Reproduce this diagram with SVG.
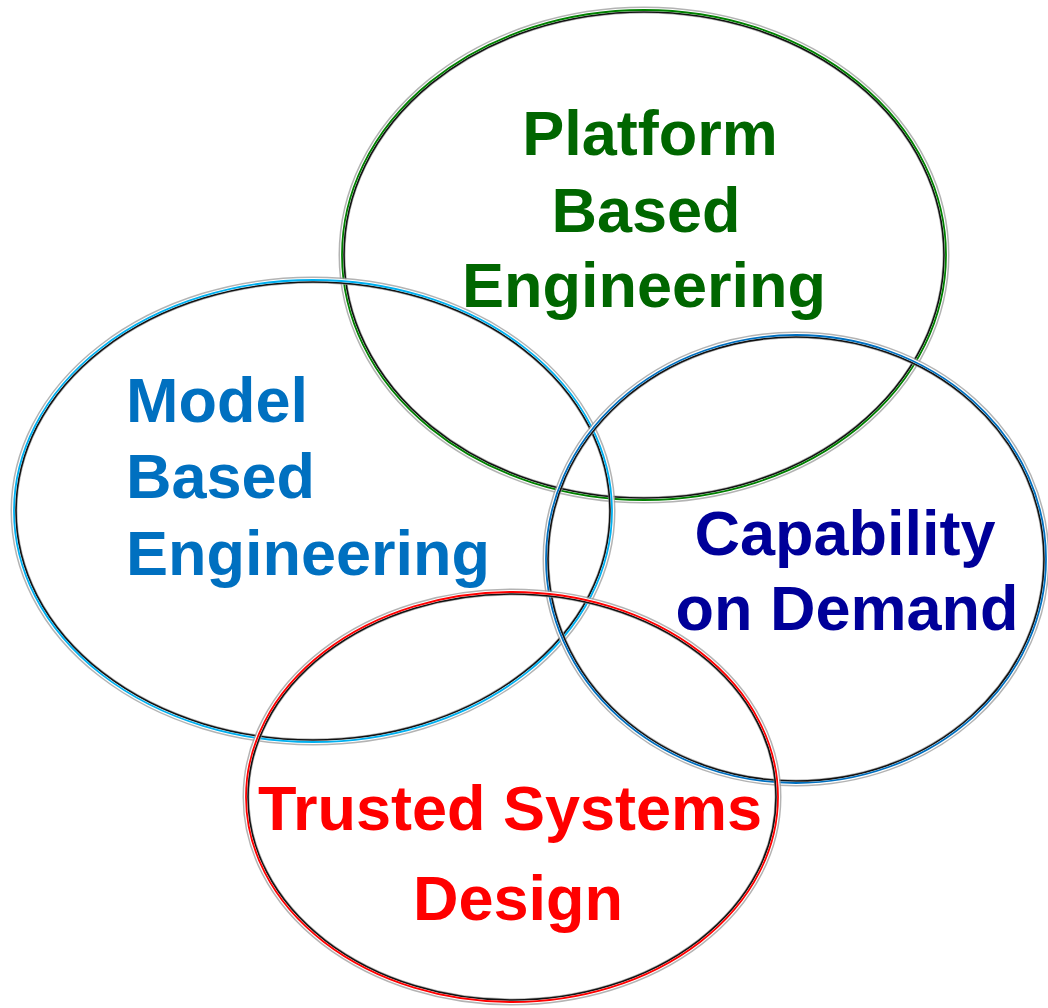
<svg xmlns="http://www.w3.org/2000/svg" width="1048" height="1008" viewBox="0 0 1048 1008">
<style>
.halo{fill:none;stroke:#9a9a9a;stroke-width:7;opacity:0.75}
.gap{fill:none;stroke:#ffffff;stroke-width:4}
.ink{fill:none;stroke:#111111;stroke-width:1.6}
.col{fill:none;stroke-width:1.8}
.t{font-family:"Liberation Sans",Arial,sans-serif;font-weight:bold;font-size:63px}
</style>
<rect width="1048" height="1008" fill="#ffffff"/>
<g id="platform">
<ellipse class="halo" cx="644" cy="255" rx="302" ry="245"/>
<ellipse class="gap" cx="644" cy="255" rx="302" ry="245"/>
<ellipse class="ink" cx="644" cy="255" rx="300" ry="243"/>
<ellipse class="col" stroke="#008000" cx="644" cy="255" rx="302" ry="245"/>
</g>
<g id="model">
<ellipse class="halo" cx="313" cy="511" rx="299" ry="231"/>
<ellipse class="gap" cx="313" cy="511" rx="299" ry="231"/>
<ellipse class="ink" cx="313" cy="511" rx="297" ry="229"/>
<ellipse class="col" stroke="#00b0f0" cx="313" cy="511" rx="299" ry="231"/>
</g>
<g id="capability">
<ellipse class="halo" cx="796" cy="559" rx="250" ry="224"/>
<ellipse class="gap" cx="796" cy="559" rx="250" ry="224"/>
<ellipse class="ink" cx="796" cy="559" rx="248" ry="222"/>
<ellipse class="col" stroke="#0070c0" cx="796" cy="559" rx="250" ry="224"/>
</g>
<g id="trusted">
<ellipse class="halo" cx="512" cy="797" rx="266" ry="205"/>
<ellipse class="gap" cx="512" cy="797" rx="266" ry="205"/>
<ellipse class="ink" cx="512" cy="797" rx="264" ry="203"/>
<ellipse class="col" stroke="#ff0000" cx="512" cy="797" rx="266" ry="205"/>
</g>
<g id="labels">
<text class="t" fill="#006600" text-anchor="middle"><tspan x="650" y="155">Platform</tspan><tspan x="646" y="232">Based</tspan><tspan x="644" y="307">Engineering</tspan></text>
<text class="t" fill="#0070c0"><tspan x="126" y="422">Model</tspan><tspan x="126" y="498">Based</tspan><tspan x="126" y="575">Engineering</tspan></text>
<text class="t" fill="#000099" text-anchor="middle"><tspan x="845" y="555">Capability</tspan><tspan x="847" y="630">on Demand</tspan></text>
<text class="t" fill="#ff0000" text-anchor="middle"><tspan x="510" y="830">Trusted Systems</tspan><tspan x="518" y="920">Design</tspan></text>
</g>
</svg>
